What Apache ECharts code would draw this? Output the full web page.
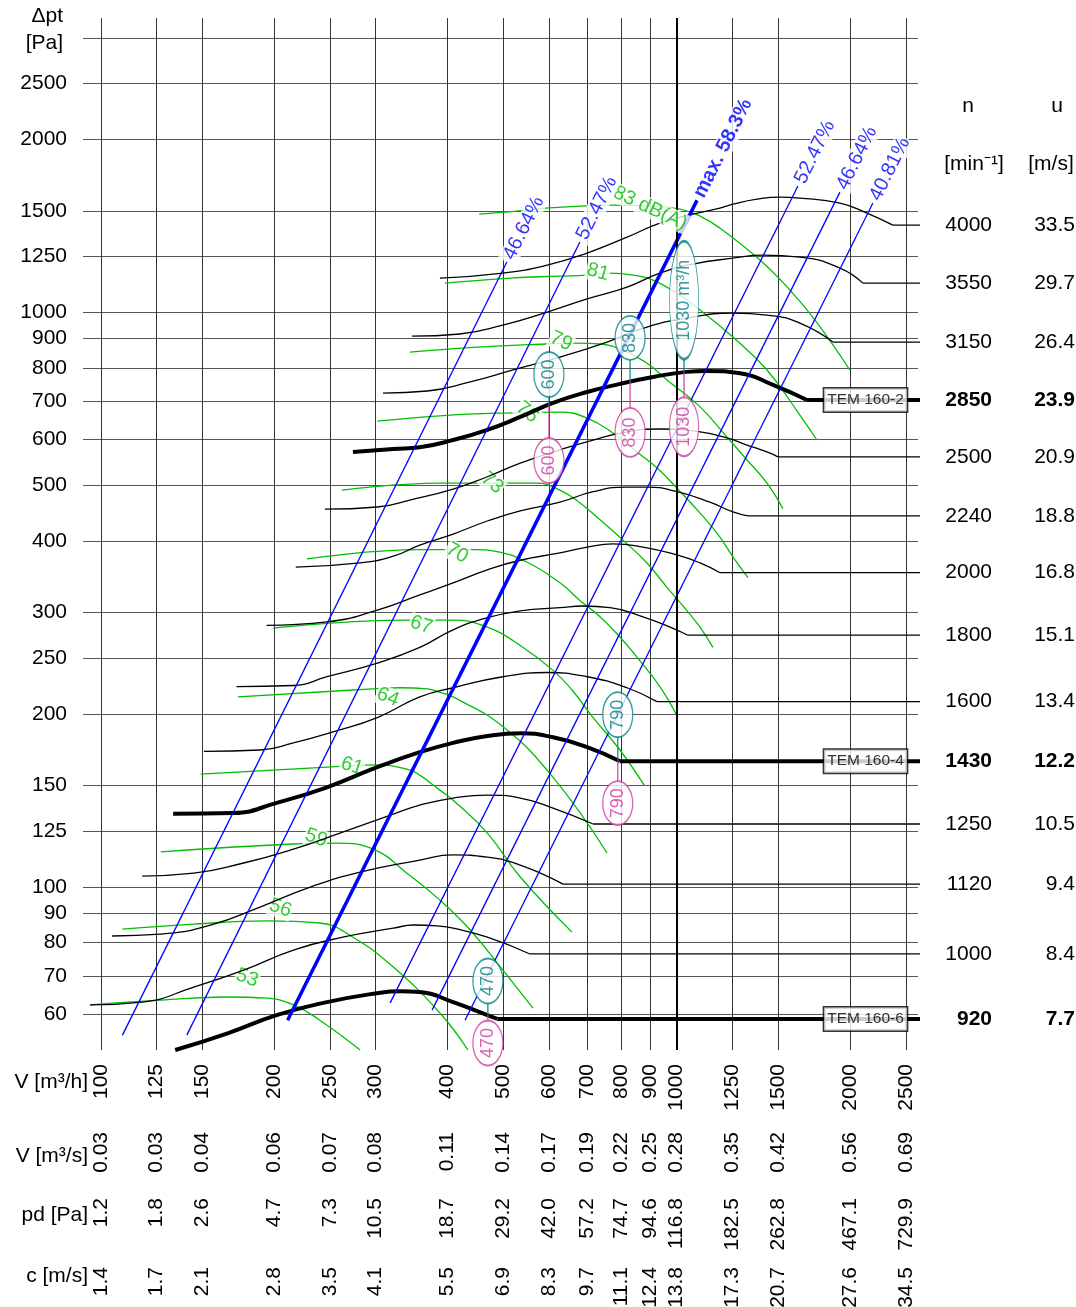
<!DOCTYPE html>
<html><head><meta charset="utf-8">
<script src="https://cdn.jsdelivr.net/npm/echarts@6/dist/echarts.min.js"></script>
<style>html,body{margin:0;padding:0;background:#fff}#c{width:1076px;height:1307px}</style>
</head><body><div id="c"></div>
<script>
// ---------- axis ticks / labels ----------
const vTicks = [100,125,150,200,250,300,400,500,600,700,800,900,1000,1250,1500,2000,2500];
const vM3sLabels = ['0.03','0.03','0.04','0.06','0.07','0.08','0.11','0.14','0.17','0.19','0.22','0.25','0.28','0.35','0.42','0.56','0.69'];
const pdLabels = ['1.2','1.8','2.6','4.7','7.3','10.5','18.7','29.2','42.0','57.2','74.7','94.6','116.8','182.5','262.8','467.1','729.9'];
const cLabels = ['1.4','1.7','2.1','2.8','3.5','4.1','5.5','6.9','8.3','9.7','11.1','12.4','13.8','17.3','20.7','27.6','34.5'];
const pTicks = [60,70,80,90,100,125,150,200,250,300,400,500,600,700,800,900,1000,1250,1500,2000,2500];
const pGridExtra = [3000];

// ---------- fan curves (V m3/h, dpt Pa) ----------
const rpmN = [4000,3550,3150,2850,2500,2240,2000,1800,1600,1430,1250,1120,1000,920];
const rpmU = ['33.5','29.7','26.4','23.9','20.9','18.8','16.8','15.1','13.4','12.2','10.5','9.4','8.4','7.7'];
const rpmBold = [false,false,false,true,false,false,false,false,false,true,false,false,false,true];
const curve4000 = [[388,1146],[499,1169],[596,1207],[699,1267],[820,1350],[935,1428],[1067,1481],[1189,1517],[1252,1541],[1379,1572],[1511,1585],[1637,1579],[1921,1547],[2140,1487],[2374,1417],[2753,1417]];
const curve3550 = [[347,908],[420,916],[499,949],[596,1000],[699,1054],[820,1105],[935,1169],[1067,1212],[1252,1241],[1412,1256],[1637,1246],[1921,1193],[2106,1123],[2753,1123]];
const curve3150 = [[309,723],[369,729],[438,756],[520,793],[627,835],[757,887],[888,942],[1040,976],[1252,996],[1435,988],[1637,957],[1868,887],[2753,887]];
const curve2850 = [[274,571],[322,578],[358,582],[409,599],[469,624],[535,657],[610,695],[699,726],[797,750],[910,771],[1040,787],[1129,790],[1288,783],[1470,747],[1684,703],[2753,703]];
const curve2500 = [[245,454],[302,458],[344,471],[409,492],[469,517],[535,546],[627,576],[716,599],[820,619],[935,626],[1098,619],[1223,604],[1325,587],[1435,571],[1499,560],[2753,560]];
const curve2240 = [[218,360],[282,366],[322,376],[358,393],[409,411],[469,433],[535,451],[627,467],[716,487],[820,496],[888,496],[1001,487],[1142,467],[1252,449],[1330,442],[2753,442]];
const curve2000 = [[194,285],[247,289],[302,303],[358,322],[409,338],[469,356],[535,370],[627,381],[699,390],[775,395],[874,390],[1001,378],[1098,366],[1189,352],[2753,352]];
const curve1800 = [[172,223],[216,224],[247,232],[302,245],[358,261],[409,280],[469,294],[535,302],[627,306],[688,308],[766,306],[874,295],[974,283],[1046,274],[2753,274]];
const curve1600 = [[151,172],[189,173],[216,178],[253,186],[302,197],[358,214],[409,222],[499,232],[596,236],[699,232],[820,222],[924,210],[2753,210]];
const curve1430 = [[133.5,134],[170,134.4],[202,140],[247,149],[302,161.5],[358,171.5],[409,178],[469,183],[535,185],[610,182],[699,175],[797,165.4],[2753,165.4]];
const curve1250 = [[118,104.4],[145,105.6],[177,110],[216,116.3],[263,124.5],[322,133.8],[358,138.7],[409,142.7],[469,144.4],[535,142.7],[610,137.1],[716,128.6],[2753,128.6]];
const curve1120 = [[104.6,82.1],[127,82.7],[155,85.8],[189,92.2],[231,99.9],[282,106.1],[358,111.3],[409,113.6],[469,112.6],[535,109.1],[635,101.1],[2753,101.1]];
const curve1000 = [[95.8,62.3],[118,63],[145,66.9],[177,71.6],[216,77.6],[263,81.7],[322,84.7],[349,85.8],[388,85.4],[409,84.7],[469,81.7],[556,76.4],[2753,76.4]];
const curve920 = [[134.6,52],[166,55.6],[202,59.8],[247,63],[302,65.3],[331,65.8],[358,65.6],[409,63],[469,59.8],[488,58.9],[2753,58.9]];
const fanCurves = [curve4000,curve3550,curve3150,curve2850,curve2500,curve2240,curve2000,curve1800,curve1600,curve1430,curve1250,curve1120,curve1000,curve920];
const modelNames = {3:'TEM 160-2', 9:'TEM 160-4', 13:'TEM 160-6'};

// ---------- sound level curves dB(A) ----------
const noise83 = [[454,1481],[528,1499],[591,1517],[685,1529],[766,1535],[899,1529],[1013,1511],[1098,1469],[1189,1400],[1395,1232],[1573,1092],[1738,969],[1999,793]];
const noise81 = [[396,1123],[514,1146],[627,1155],[699,1160],[766,1169],[840,1160],[910,1137],[1001,1079],[1098,1008],[1252,905],[1435,793],[1637,662],[1752,599]];
const noise79 = [[344,852],[450,869],[591,880],[671,883],[736,880],[813,855],[892,812],[962,762],[1098,684],[1223,606],[1325,553],[1435,504],[1529,455]];
const noise76 = [[302,646],[388,660],[514,668],[627,670],[699,654],[775,616],[853,571],[924,536],[1001,494],[1098,447],[1189,406],[1252,375],[1330,345]];
const noise73 = [[262,490],[388,504],[456,504],[572,504],[627,490],[679,466],[736,435],[807,401],[888,366],[962,332],[1040,303],[1098,283],[1156,261]];
const noise70 = [[228,372],[358,386],[443,386],[499,381],[550,367],[627,338],[679,315],[736,295],[797,272],[853,251],[935,223],[1005,197]];
const noise67 = [[199,282],[340,291],[409,291],[469,283],[535,263],[610,238],[658,220],[716,197],[797,173],[879,150]];
const noise64 = [[173,214],[297,221],[331,222],[369,221],[388,218],[409,214],[499,190],[610,155],[757,114.5]];
const noise61 = [[149,157],[247,161.5],[305,163],[344,159.6],[358,156.4],[388,147.3],[409,141.5],[469,124],[535,104],[658,83.4]];
const noise59 = [[127,115],[216,118.7],[257,119.1],[297,116.3],[340,105.6],[388,94.8],[438,84.1],[499,71.6],[563,61.5]];
const noise56 = [[109,84.4],[145,86.1],[194,87.2],[240,86.5],[274,81.7],[322,72.5],[388,60.3],[434,52]];
const noise53 = [[95.8,62.3],[127,63.5],[166,64.3],[194,64],[216,62.3],[240,58.6],[282,52]];
const noiseCurves = [noise83,noise81,noise79,noise76,noise73,noise70,noise67,noise64,noise61,noise59,noise56,noise53];
const dbText = ['53','56','59','61','64','67','70','73','76','79','81'];
const dbAnchor = [[179.5,69.4],[205,91.8],[236.5,121.6],[273,162.2],[315,213.8],[360,285.4],[415.5,380.9],[478,504.3],[550,670],[630,890],[730,1174]];
const dbRotate = [-20,-20,-20,-18,-22,-18,-30,-40,-40,-25,-15];
const dbTopText = '83 dB(A)';
const dbTopAnchor = [898.8,1516.6];

// ---------- efficiency lines ----------
const effText = ['46.64%','52.47%','max. 58.3%','52.47%','46.64%','40.81%'];
const eff1 = [[109,55.2],[507,1222]];
const eff2 = [[141,55.2],[679,1324]];
const eff3 = [[211,58.6],[1085,1566]];
const eff4 = [[318,62.8],[1624,1657]];
const eff5 = [[376,61],[1921,1617]];
const eff6 = [[429,58.6],[2192,1548]];
const effLines = [eff1,eff2,eff3,eff4,eff5,eff6];

// ---------- model limit markers ----------
const markV = [600,830,1030,790,470];
const markP = [692,756,786,166.1,59.7];
const markTopText = ['600','830','1030 m³/h','790','470'];
const markBottomText = ['600','830','1030','790','470'];

// ---------- styling ----------
const FONT = '"Liberation Sans", Arial, Helvetica, sans-serif';
const GREEN = '#00bf00', BLUE = '#0000ff', TEAL = '#008282', MAG = '#d0399f';
const X_MIN = 93.1, X_MAX = 2625, Y_MIN = 52, Y_MAX = 3249;
const tealLen = [7,22,13,23,12];
const magLen = [34,26,25,21,5];
const tealOval = [[30,45],[30,44],[29,118],[30,45],[30,45]];
const magOval = [[30,45],[30,49],[29,59],[30,44],[30,45]];

function nearestIdx(arr, v) {
  let b = 0, d = Infinity;
  arr.forEach((a, i) => { const dd = Math.abs(Math.log(a) - Math.log(v)); if (dd < d) { d = dd; b = i; } });
  return b;
}
const rightLevels = fanCurves.map(c => c[c.length - 1][1]);
const hidden = {symbolSize: 0.1, itemStyle: {color: 'rgba(0,0,0,0)'}};

const series = [];
// sound curves
noiseCurves.forEach((c, i) => series.push({
  type: 'line', data: c, smooth: 0.45, symbol: 'none', silent: true, z: 2,
  lineStyle: {color: GREEN, width: 1.3}
}));
// dB labels (above green, below black curves)
series.push(Object.assign({
  type: 'scatter', silent: true, z: 2, clip: false,
  data: dbAnchor.map((p, i) => ({value: p, label: {formatter: dbText[i], rotate: dbRotate[i]}})),
  label: {show: true, position: 'inside', align: 'center', verticalAlign: 'middle',
    color: GREEN, fontSize: 20, fontFamily: FONT, backgroundColor: '#fff', padding: [0, 1]}
}, hidden));
// fan curves: smooth body + straight tail
fanCurves.forEach((c, i) => {
  const w = rpmBold[i] ? 4 : 1.3;
  series.push({type: 'line', data: c.slice(0, c.length - 1), smooth: 0.5, symbol: 'none', silent: true, clip: false, z: 3,
    lineStyle: {color: '#000', width: w}});
  series.push({type: 'line', data: c.slice(c.length - 2), symbol: 'none', silent: true, clip: false, z: 3,
    lineStyle: {color: '#000', width: w}});
});
// efficiency lines
effLines.forEach((c, i) => series.push({
  type: 'line', data: c, symbol: 'none', silent: true, z: 4,
  lineStyle: {color: BLUE, width: i === 2 ? 3.5 : 1.3}
}));
// bold 1000 m3/h grid line
series.push({type: 'line', data: [], silent: true,
  markLine: {silent: true, symbol: ['none', 'none'], label: {show: false},
    lineStyle: {color: '#000', width: 2, type: 'solid'}, data: [{xAxis: 1000}]}});
// 83 dB(A) label on top
series.push(Object.assign({
  type: 'scatter', silent: true, z: 8, clip: false,
  data: [{value: dbTopAnchor}],
  label: {show: true, formatter: dbTopText, position: 'inside', rotate: -25, align: 'center', verticalAlign: 'middle',
    color: GREEN, fontSize: 20, fontFamily: FONT, backgroundColor: '#fff', padding: [0, 1]}
}, hidden));
// efficiency labels
series.push(Object.assign({
  type: 'scatter', silent: true, z: 8, clip: false,
  data: effLines.map((c, i) => ({value: c[1], label: {formatter: effText[i], fontWeight: i === 2 ? 'bold' : 'normal'}})),
  label: {show: true, position: 'inside', rotate: 63.4, align: 'left', verticalAlign: 'middle',
    color: BLUE, fontSize: 20, fontFamily: FONT, backgroundColor: '#fff', padding: [0, 1, 0, 4]}
}, hidden));
// model boxes at the end of the bold curves
series.push(Object.assign({
  type: 'scatter', silent: true, z: 8, clip: false,
  data: Object.keys(modelNames).map(k => { const c = fanCurves[k]; return {value: c[c.length - 1], label: {formatter: modelNames[k]}}; }),
  label: {show: true, position: 'left', distance: 23, color: '#000', fontSize: 15.5, fontFamily: FONT,
    backgroundColor: '#fff', borderColor: '#000', borderWidth: 1.5, padding: [4, 3, 3, 3]}
}, hidden));
// connectors
series.push({
  type: 'scatter', silent: true, z: 9, clip: false, symbol: 'rect', itemStyle: {color: TEAL},
  data: markV.map((v, i) => ({value: [v, markP[i]], symbolSize: [1.5, tealLen[i]], symbolOffset: [0, -tealLen[i] / 2]}))
});
series.push({
  type: 'scatter', silent: true, z: 9, clip: false, symbol: 'rect', itemStyle: {color: MAG},
  data: markV.map((v, i) => ({value: [v, markP[i]], symbolSize: [1.5, magLen[i]], symbolOffset: [0, magLen[i] / 2]}))
});
// oval markers
series.push({
  type: 'scatter', silent: true, z: 10, clip: false, symbol: 'circle',
  itemStyle: {color: '#fff', borderColor: TEAL, borderWidth: 1.5},
  data: markV.map((v, i) => ({value: [v, markP[i]], symbolSize: tealOval[i],
    symbolOffset: [0, -(tealLen[i] + tealOval[i][1] / 2)], label: {formatter: markTopText[i]}})),
  label: {show: true, position: 'inside', rotate: 90, align: 'center', verticalAlign: 'middle',
    color: TEAL, fontSize: 18, fontFamily: FONT}
});
series.push({
  type: 'scatter', silent: true, z: 10, clip: false, symbol: 'circle',
  itemStyle: {color: '#fff', borderColor: MAG, borderWidth: 1.5},
  data: markV.map((v, i) => ({value: [v, markP[i]], symbolSize: magOval[i],
    symbolOffset: [0, magLen[i] + magOval[i][1] / 2], label: {formatter: markBottomText[i]}})),
  label: {show: true, position: 'inside', rotate: 90, align: 'center', verticalAlign: 'middle',
    color: MAG, fontSize: 18, fontFamily: FONT}
});

function xAxisRow(labels, offset, isMain) {
  return {
    type: 'log', min: X_MIN, max: X_MAX, position: 'bottom', offset: offset,
    axisLine: {show: false}, axisTick: {show: false, customValues: vTicks},
    splitLine: {show: !!isMain, lineStyle: {color: '#333', width: 1}},
    axisLabel: {customValues: vTicks, rotate: 90, margin: 14, fontSize: 21, color: '#000', fontFamily: FONT,
      formatter: v => labels[nearestIdx(vTicks, v)]}
  };
}
const txt = (text, x, y, align) => ({type: 'text', x: x, y: y, silent: true,
  style: {text: text, align: align || 'right', verticalAlign: 'middle', fontSize: 21, fontFamily: FONT, fill: '#000'}});

const option = {
  animation: false,
  backgroundColor: '#fff',
  textStyle: {fontFamily: FONT},
  grid: {left: 83, right: 158, top: 18, bottom: 257, containLabel: false, outerBoundsMode: 'none'},
  xAxis: [
    xAxisRow(vTicks.map(String), 0, true),
    xAxisRow(vM3sLabels, 68),
    xAxisRow(pdLabels, 134),
    xAxisRow(cLabels, 203)
  ],
  yAxis: [
    {type: 'log', min: Y_MIN, max: Y_MAX, position: 'left',
      axisLine: {show: false}, axisTick: {show: false, customValues: pTicks.concat(pGridExtra)},
      splitLine: {show: true, lineStyle: {color: '#555', width: 1}},
      axisLabel: {customValues: pTicks, margin: 16, fontSize: 21, color: '#000', fontFamily: FONT,
        formatter: v => String(pTicks[nearestIdx(pTicks, v)])}},
    {type: 'log', min: Y_MIN, max: Y_MAX, position: 'right',
      axisLine: {show: false}, axisTick: {show: false}, splitLine: {show: false},
      axisLabel: {customValues: rightLevels, margin: 74, align: 'right', fontSize: 21, color: '#000', fontFamily: FONT,
        formatter: v => { const i = nearestIdx(rightLevels, v); return rpmBold[i] ? '{b|' + rpmN[i] + '}' : String(rpmN[i]); },
        rich: {b: {fontWeight: 'bold', fontSize: 21, fontFamily: FONT, color: '#000'}}}},
    {type: 'log', min: Y_MIN, max: Y_MAX, position: 'right',
      axisLine: {show: false}, axisTick: {show: false}, splitLine: {show: false},
      axisLabel: {customValues: rightLevels, margin: 157, align: 'right', fontSize: 21, color: '#000', fontFamily: FONT,
        formatter: v => { const i = nearestIdx(rightLevels, v); return rpmBold[i] ? '{b|' + rpmU[i] + '}' : rpmU[i]; },
        rich: {b: {fontWeight: 'bold', fontSize: 21, fontFamily: FONT, color: '#000'}}}}
  ],
  graphic: [
    txt('Δpt', 63, 16), txt('[Pa]', 63, 43),
    txt('n', 968, 106, 'center'), txt('[min⁻¹]', 974, 164, 'center'),
    txt('u', 1057, 106, 'center'), txt('[m/s]', 1051, 164, 'center'),
    txt('V [m³/h]', 88, 1082), txt('V [m³/s]', 88, 1156), txt('pd [Pa]', 88, 1215), txt('c [m/s]', 88, 1276)
  ],
  series: series
};
const chart = echarts.init(document.getElementById('c'));
chart.setOption(option);
</script></body></html>
